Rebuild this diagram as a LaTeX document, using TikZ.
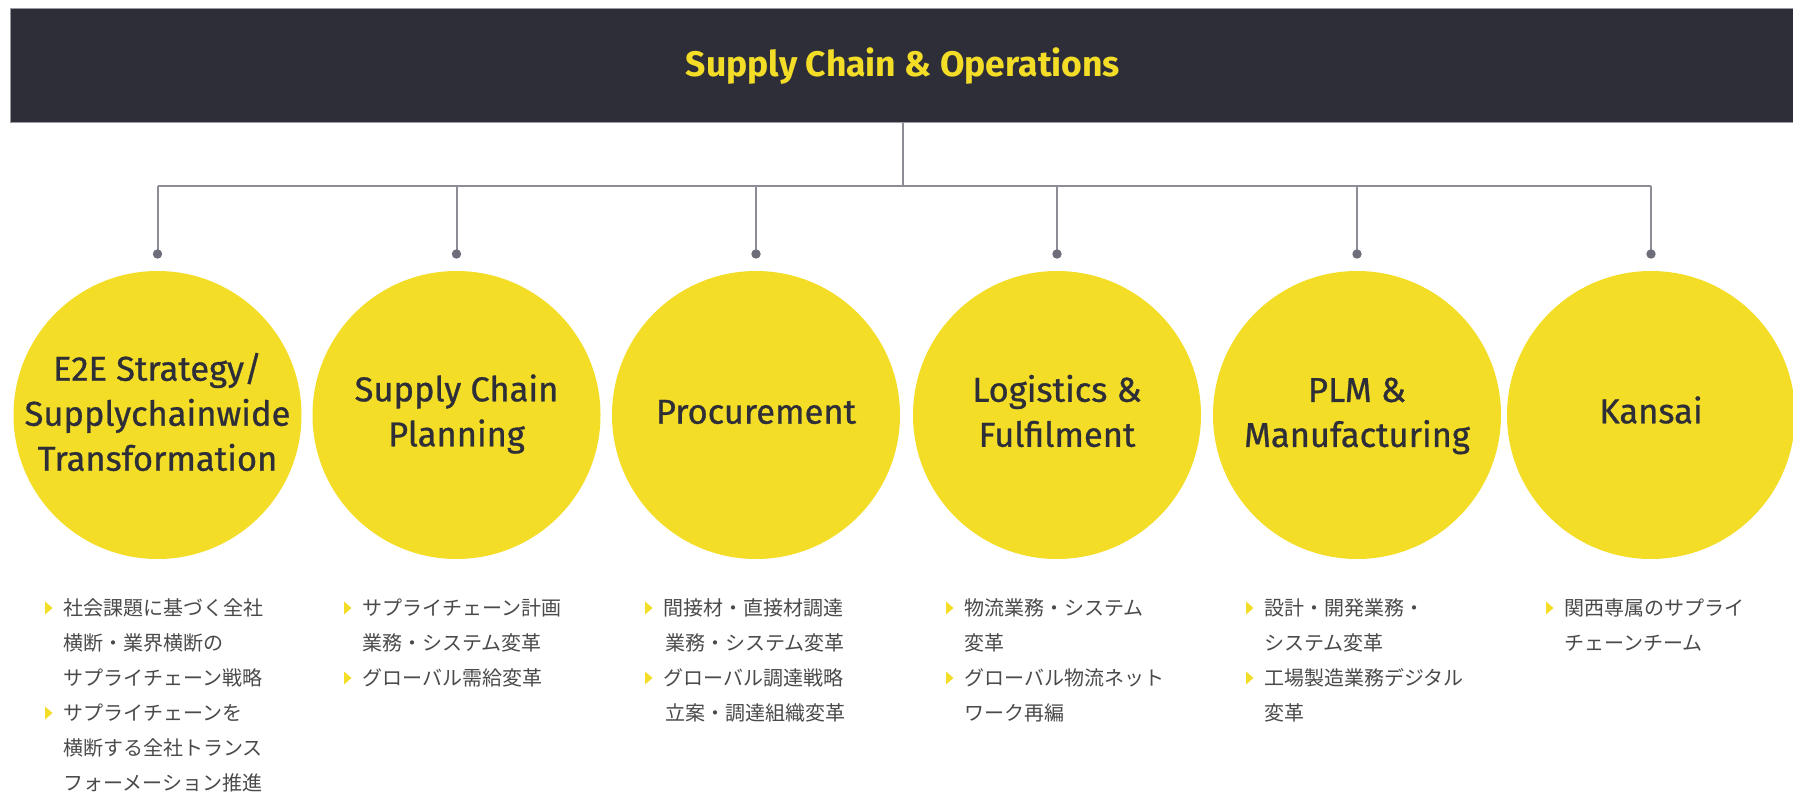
\documentclass[tikz,border=0pt]{standalone}
\usepackage{fontspec}
\setmainfont{Fira Sans}
\newfontfamily\circfont{Fira Sans}[FakeBold=0.8]
\newfontfamily\jp{Noto Sans CJK JP}
\definecolor{eydark}{HTML}{2E2E38}
\definecolor{eyyellow}{HTML}{F3DD27}
\definecolor{linegray}{HTML}{8C8C96}
\definecolor{dotgray}{HTML}{6E6E7A}
\definecolor{txtgray}{HTML}{4A4A4A}
\definecolor{edgegray}{HTML}{9A9AA2}
\tikzset{
  circ/.style={circle, fill=eyyellow, minimum size=288pt, inner sep=0pt},
  ctext/.style={text=eydark, font=\circfont\fontsize{34.5}{45}\selectfont, align=center, inner sep=0pt},
  conn/.style={draw=linegray, line width=2pt},
  jl/.style={anchor=base west, inner sep=0pt, text=txtgray, font=\jp\fontsize{20}{35}\selectfont},
}
\newcommand\jline[4]{\node[jl] (#1) at (#2,#3) {#4};}
\newcommand\jtri[2]{\fill[eyyellow] (#1-18,#2-6.5) -- ++(7.5,6.5) -- ++(-7.5,6.5) -- cycle;}
\begin{document}
\begin{tikzpicture}[x=1pt,y=-1pt]
\useasboundingbox (0,0) rectangle (1793,792);
\fill[white] (0,0) rectangle (1793,792);
% banner
\fill[eydark] (10,8.5) rectangle (1800,122.5);
\draw[edgegray, line width=1pt] (10,8.5) -- (1800,8.5);
\draw[edgegray, line width=1pt] (10,122.5) -- (1800,122.5);
\draw[edgegray, line width=1pt] (10,8.5) -- (10,122.5);
\node[inner sep=0pt, minimum width=1790pt, minimum height=114pt, anchor=north west] (banner) at (10,8.5) {};
\node[text=eyyellow, font=\bfseries\fontsize{35.5}{40}\selectfont] (title) at (903,66) {Supply Chain \& Operations};
% connectors
\coordinate (hub) at (903,186);
\foreach \i/\x in {1/157.5,2/456.5,3/756,4/1057,5/1357,6/1651}{
  \coordinate (b\i) at (\x,186);
  \coordinate (d\i) at (\x,254);
}
\draw[conn] (hub |- banner.south) -- (hub);
\draw[conn] (b1) -- (b6);
\foreach \i in {1,...,6}{
  \draw[conn] (b\i) -- (d\i);
  \fill[dotgray] (d\i) circle (4.7);
}
% circles
\node[circ] (c1) at (157.5,415) {};
\node[circ] (c2) at (456.5,415) {};
\node[circ] (c3) at (756,415) {};
\node[circ] (c4) at (1057,415) {};
\node[circ] (c5) at (1357,415) {};
\node[circ] (c6) at (1651,415) {};
\node[ctext] (l1) at ([yshift=3pt]c1.center) {E2E Strategy/\\Supplychainwide\\Transformation};
\node[ctext] (l2) at ([yshift=1pt]c2.center) {Supply Chain\\Planning};
\node[ctext] (l3) at ([yshift=3pt]c3.center) {Procurement};
\node[ctext] (l4) at ([yshift=4pt]c4.center) {Logistics \&\\Fulfilment};
\node[ctext] (l5) at ([yshift=-1pt]c5.center) {PLM \&\\Manufacturing};
\node[ctext] (l6) at ([yshift=5pt]c6.center) {Kansai};
% bullet texts
\def\ra{615.5}\def\rb{650.5}\def\rc{685.5}\def\rd{720.5}\def\re{755.5}\def\rf{790.5}
% col 1
\jtri{63}{608}
\jline{t1a}{63}{\ra}{社会課題に基づく全社}
\jline{t1b}{63}{\rb}{横断・業界横断の}
\jline{t1c}{63}{\rc}{サプライチェーン戦略}
\jtri{63}{713}
\jline{t1d}{63}{\rd}{サプライチェーンを}
\jline{t1e}{63}{\re}{横断する全社トランス}
\jline{t1f}{63}{\rf}{フォーメーション推進}
% col 2
\jtri{362}{608}
\jline{t2a}{362}{\ra}{サプライチェーン計画}
\jline{t2b}{362}{\rb}{業務・システム変革}
\jtri{362}{678}
\jline{t2c}{362}{\rc}{グローバル需給変革}
% col 3
\jtri{663}{608}
\jline{t3a}{663}{\ra}{間接材・直接材調達}
\jline{t3b}{665}{\rb}{業務・システム変革}
\jtri{663}{678}
\jline{t3c}{663}{\rc}{グローバル調達戦略}
\jline{t3d}{665}{\rd}{立案・調達組織変革}
% col 4
\jtri{964}{608}
\jline{t4a}{964}{\ra}{物流業務・システム}
\jline{t4b}{964}{\rb}{変革}
\jtri{964}{678}
\jline{t4c}{964}{\rc}{グローバル物流ネット}
\jline{t4d}{964}{\rd}{ワーク再編}
% col 5
\jtri{1264}{608}
\jline{t5a}{1264}{\ra}{設計・開発業務・}
\jline{t5b}{1264}{\rb}{システム変革}
\jtri{1264}{678}
\jline{t5c}{1264}{\rc}{工場製造業務デジタル}
\jline{t5d}{1264}{\rd}{変革}
% col 6
\jtri{1564}{608}
\jline{t6a}{1564}{\ra}{関西専属のサプライ}
\jline{t6b}{1564}{\rb}{チェーンチーム}
\end{tikzpicture}
\end{document}
